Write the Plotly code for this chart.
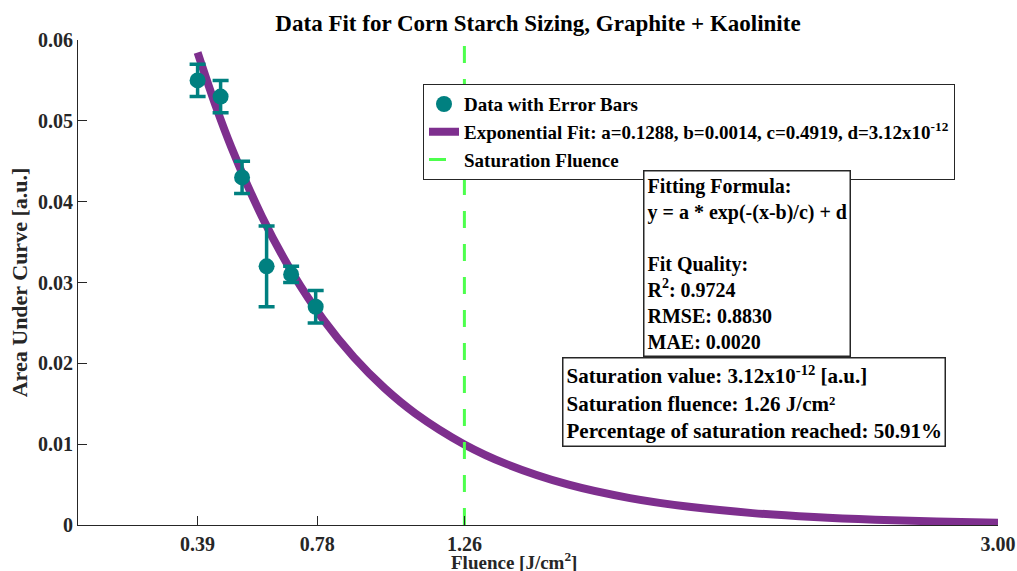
import plotly.graph_objects as go

x_data = [0.39, 0.465, 0.535, 0.615, 0.695, 0.775]
y_data = [0.055, 0.053, 0.043, 0.032, 0.031, 0.027]
y_err = [0.002, 0.002, 0.002, 0.005, 0.001, 0.002]

# Fitted curve samples
x_fit = [0.39, 0.45, 0.5, 0.6, 0.7, 0.8, 0.9, 1.0, 1.1, 1.26, 1.4, 1.6, 1.8,
         2.0, 2.2, 2.4, 2.6, 2.8, 3.0]
y_fit = [0.05845, 0.05174, 0.04674, 0.03814, 0.03113, 0.02540, 0.02073,
         0.01691, 0.01380, 0.00997, 0.00750, 0.00499, 0.00333, 0.00222,
         0.00147, 0.00098, 0.00065, 0.00044, 0.00029]

sat_x = [1.26, 1.26]
sat_y = [0.0, 0.06]

x_tickvals = [0.39, 0.78, 1.26, 3.0]
x_ticktext = ["0.39", "0.78", "1.26", "3.00"]
y_tickvals = [0, 0.01, 0.02, 0.03, 0.04, 0.05, 0.06]
y_ticktext = ["0", "0.01", "0.02", "0.03", "0.04", "0.05", "0.06"]

TEAL = "#008080"
PURPLE = "#7E2F8E"
GREEN = "#4DFF4D"
AXC = "#262626"
FONT = "Liberation Serif"

fig = go.Figure()

fig.add_trace(go.Scatter(
    x=x_fit, y=y_fit, mode="lines", line=dict(color=PURPLE, width=8, shape="spline"),
    name="<b>Exponential Fit: a=0.1288, b=0.0014, c=0.4919, d=3.12x10<sup>-12</sup></b>",
    legendrank=2))

fig.add_trace(go.Scatter(
    x=sat_x, y=sat_y, mode="lines", line=dict(color=GREEN, width=3, dash="17px,16px"),
    name="<b>Saturation Fluence</b>", legendrank=3))

fig.add_trace(go.Scatter(
    x=x_data, y=y_data, mode="markers",
    marker=dict(color=TEAL, size=16),
    error_y=dict(type="data", array=y_err, color=TEAL, thickness=3.5, width=8),
    name="<b>Data with Error Bars</b>", legendrank=1))

fig.update_layout(
    width=1017, height=571,
    margin=dict(l=78, r=19, t=40, b=46, autoexpand=False),
    paper_bgcolor="white", plot_bgcolor="white",
    font=dict(family=FONT, size=17, color="black"),
    title=dict(text="<b>Data Fit for Corn Starch Sizing, Graphite + Kaolinite</b>",
               x=0.529, xanchor="center", y=0.96, yanchor="middle",
               font=dict(family=FONT, size=23, color="black")),
    xaxis=dict(range=[0, 3], showline=True, linecolor=AXC, linewidth=1,
               ticks="inside", ticklen=9, tickcolor=AXC, automargin=False,
               tickvals=x_tickvals, ticktext=["<b>%s</b>" % t for t in x_ticktext],
               showgrid=False, zeroline=False, ticklabelstandoff=1,
               tickfont=dict(family=FONT, size=20, color=AXC)),
    yaxis=dict(range=[0, 0.06], showline=True, linecolor=AXC, linewidth=1,
               ticks="inside", ticklen=9, tickcolor=AXC, automargin=False,
               tickvals=y_tickvals, ticktext=["<b>%s</b>" % t for t in y_ticktext],
               showgrid=False, zeroline=False,
               title=dict(text="<b>Area Under Curve [a.u.]</b>", standoff=4,
                          font=dict(family=FONT, size=22, color=AXC)),
               tickfont=dict(family=FONT, size=20, color=AXC)),
    legend=dict(x=0.375, y=0.909, xanchor="left", yanchor="top",
                bordercolor=AXC, borderwidth=1, bgcolor="white",
                font=dict(family=FONT, size=19, color="black"),
                tracegroupgap=0, itemwidth=30),
    showlegend=True,
)

fig.add_annotation(
    x=0.474, y=-0.046, xref="paper", yref="paper", xanchor="center", yanchor="top",
    text="<b>Fluence [J/cm<sup>2</sup>]</b>", showarrow=False,
    font=dict(family=FONT, size=19, color=AXC))

fig.add_annotation(
    x=0.614, y=0.732, xref="paper", yref="paper", xanchor="left", yanchor="top",
    align="left", showarrow=False, bordercolor=AXC, borderwidth=1.5,
    borderpad=3, bgcolor="white",
    text=("<b>Fitting Formula:<br>y = a * exp(-(x-b)/c) + d<br> <br>Fit Quality:<br>"
          "R<sup>2</sup>: 0.9724<br>RMSE: 0.8830<br>MAE: 0.0020</b>"),
    font=dict(family=FONT, size=20, color="black"))

fig.add_annotation(
    x=0.526, y=0.346, xref="paper", yref="paper", xanchor="left", yanchor="top",
    align="left", showarrow=False, bordercolor=AXC, borderwidth=1.5,
    borderpad=3, bgcolor="white",
    text=("<b>Saturation value: 3.12x10<sup>-12</sup> [a.u.]<br>"
          "Saturation fluence: 1.26 J/cm²<br>"
          "Percentage of saturation reached: 50.91%</b>"),
    font=dict(family=FONT, size=21, color="black"))

fig.write_html("out.html")
